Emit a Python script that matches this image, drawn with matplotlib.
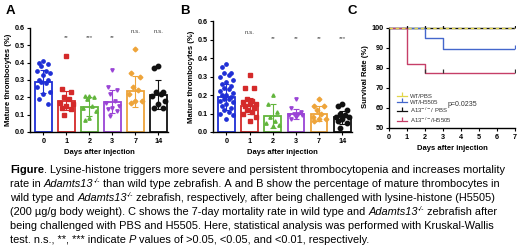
import matplotlib
matplotlib.use('Agg')
import matplotlib.pyplot as plt
from matplotlib.lines import Line2D
import numpy as np

plt.rcParams['font.family'] = ['Liberation Sans', 'DejaVu Sans']

# ---- data ----
days = ['0', '1', '2', '3', '7', '14']
colors = ['#1f2fd6', '#d42a2a', '#62b53c', '#9a44d6', '#eea43a', '#111111']
markers = ['o', 's', '^', 'v', 'D', 'o']

a_d0 = [0.41, 0.40, 0.39, 0.38, 0.35, 0.35, 0.34, 0.33, 0.30, 0.30, 0.29, 0.28, 0.26, 0.23, 0.22, 0.19, 0.16]
a_d1 = [0.44, 0.25, 0.23, 0.20, 0.19, 0.17, 0.16, 0.15, 0.14, 0.13, 0.10]
a_d2 = [0.21, 0.21, 0.20, 0.19, 0.15, 0.14, 0.12, 0.08, 0.07]
a_d3 = [0.36, 0.26, 0.24, 0.22, 0.18, 0.17, 0.15, 0.14, 0.13, 0.12, 0.09]
a_d7 = [0.48, 0.34, 0.32, 0.26, 0.24, 0.22, 0.18, 0.18, 0.17]
a_d14 = [0.38, 0.37, 0.23, 0.23, 0.22, 0.21, 0.18, 0.16, 0.14, 0.14]
a_mean = [0.29, 0.18, 0.145, 0.175, 0.235, 0.215]
a_sd = [0.065, 0.055, 0.055, 0.065, 0.09, 0.085]
a_sig = ['', '**', '***', '**', 'n.s.', 'n.s.']

b_d0 = [0.37, 0.35, 0.32, 0.32, 0.31, 0.30, 0.28, 0.27, 0.26, 0.25, 0.24, 0.23, 0.22, 0.21, 0.20,
        0.20, 0.19, 0.18, 0.18, 0.17, 0.16, 0.15, 0.14, 0.13, 0.12, 0.11, 0.10, 0.09, 0.07]
b_d1 = [0.31, 0.24, 0.24, 0.18, 0.17, 0.16, 0.15, 0.15, 0.14, 0.13, 0.12, 0.11, 0.10, 0.08, 0.06]
b_d2 = [0.20, 0.15, 0.11, 0.08, 0.06, 0.05, 0.04, 0.03]
b_d3 = [0.18, 0.13, 0.11, 0.10, 0.10, 0.09, 0.09, 0.08, 0.07]
b_d7 = [0.18, 0.14, 0.14, 0.12, 0.10, 0.08, 0.07, 0.07, 0.06]
b_d14 = [0.15, 0.14, 0.12, 0.10, 0.09, 0.08, 0.08, 0.07, 0.06, 0.05, 0.02]
b_mean = [0.187, 0.14, 0.085, 0.097, 0.10, 0.08]
b_sd = [0.07, 0.045, 0.065, 0.025, 0.04, 0.035]
b_sig = ['', 'n.s.', '**', '**', '**', '***']

surv_labels = ['WT/PBS', 'WT/H5505', 'A13$^{-/-}$/ PBS', 'A13$^{-/-}$/H5505']
surv_colors = ['#e2d64a', '#4467cc', '#111111', '#c63f68']
wt_pbs_t, wt_pbs_s = [0, 7], [100, 100]
wt_h_t, wt_h_s = [0, 2, 3, 7], [100, 95, 89.5, 89.5]
a13_pbs_t, a13_pbs_s = [0, 7], [100, 100]
a13_h_t, a13_h_s = [0, 1, 2, 7], [100, 81.8, 77.3, 77.3]
cens_pbs = [1, 2, 3, 7]
cens_wt_h = [7]
cens_a13_h = [2, 3, 7]

W, H = 520, 246
fig = plt.figure(figsize=(W / 100, H / 100), dpi=100)


def px(l, t, r, b):
    return [l / W, 1 - b / H, (r - l) / W, (b - t) / H]


def prism_axes(ax):
    for s in ['top', 'right']:
        ax.spines[s].set_visible(False)
    for s in ['left', 'bottom']:
        ax.spines[s].set_linewidth(1.0)
    ax.tick_params(direction='out', length=2.5, width=0.8, labelsize=5.2, pad=1.5)
    for lab in ax.get_xticklabels() + ax.get_yticklabels():
        lab.set_fontweight('bold')


def spread(n):
    # deterministic horizontal spread of the dots inside a bar
    pat = [0.0, -0.2, 0.2, -0.1, 0.1, -0.28, 0.28]
    return np.array([pat[i % len(pat)] for i in range(n)])


def bar_panel(ax, groups, means, sds, sig, sig_y):
    x = np.arange(len(groups))
    for i, pts in enumerate(groups):
        c = colors[i]
        ax.bar(x[i], means[i], width=0.72, facecolor='white', edgecolor=c, linewidth=1.3, zorder=2)
        ax.errorbar(x[i], means[i], yerr=sds[i], color=c, capsize=2.2, elinewidth=0.8,
                    capthick=0.8, zorder=3)
        ms = 3.2 if i == 5 else 2.4
        ax.plot(x[i] + spread(len(pts)), pts, linestyle='none', marker=markers[i], color=c,
                markersize=ms, zorder=4)
        if sig[i]:
            yy = sig_y + (0.035 if sig[i] == 'n.s.' else 0)
            ax.text(x[i], yy, sig[i], ha='center', va='center', fontsize=4.5, color='#444444')
    ax.set_xlim(-0.58, 5.42)
    ax.set_ylim(0, 0.6)
    ax.set_yticks(np.arange(0, 0.61, 0.1))
    ax.set_yticklabels(['%.1f' % v for v in np.arange(0, 0.61, 0.1)])
    ax.set_xticks(x)
    ax.set_xticklabels(days)
    ax.set_xlabel('Days after injection', fontsize=5.5, fontweight='bold', labelpad=3)
    ax.set_ylabel('Mature thrombocytes (%)', fontsize=5.5, fontweight='bold', labelpad=2)
    prism_axes(ax)


axA = fig.add_axes(px(30, 28, 168, 132))
bar_panel(axA, [a_d0, a_d1, a_d2, a_d3, a_d7, a_d14], a_mean, a_sd, a_sig, 0.545)

axB = fig.add_axes(px(213, 21, 352, 132))
bar_panel(axB, [b_d0, b_d1, b_d2, b_d3, b_d7, b_d14], b_mean, b_sd, b_sig, 0.505)

# ---- survival panel ----
axC = fig.add_axes(px(389, 26, 515, 128))
axC.step(a13_pbs_t, a13_pbs_s, where='post', color=surv_colors[2], lw=1.0, zorder=2)
axC.step(wt_pbs_t, wt_pbs_s, where='post', color=surv_colors[0], lw=1.0, ls=(0, (2.5, 2)), zorder=3)
axC.step(wt_h_t, wt_h_s, where='post', color=surv_colors[1], lw=1.0, zorder=2)
axC.step(a13_h_t, a13_h_s, where='post', color=surv_colors[3], lw=1.0, zorder=2)


def surv_at(ts, ss, t):
    v = ss[0]
    for tt, s in zip(ts, ss):
        if tt <= t:
            v = s
    return v


axC.plot(cens_pbs, [surv_at(a13_pbs_t, a13_pbs_s, t) for t in cens_pbs], ls='none', marker=2,
         color='#111111', markersize=3, mew=0.9, zorder=4)
axC.plot(cens_wt_h, [surv_at(wt_h_t, wt_h_s, t) for t in cens_wt_h], ls='none', marker=2,
         color=surv_colors[1], markersize=3, mew=0.9, zorder=4)
axC.plot(cens_a13_h, [surv_at(a13_h_t, a13_h_s, t) for t in cens_a13_h], ls='none', marker=2,
         color='#333333', markersize=3, mew=0.9, zorder=4)

handles = [Line2D([0], [0], color=c, lw=0.9, marker=2, markersize=3, mew=0.9) for c in surv_colors]
leg = axC.legend(handles, surv_labels, loc='upper left', bbox_to_anchor=(0.03, 0.38), frameon=False,
                 fontsize=4.3, handlelength=1.6, handletextpad=0.5, labelspacing=0.15, borderpad=0.2)
for t in leg.get_texts():
    t.set_color('#333333')
axC.text(3.25, 61.5, 'p=0.0235', fontsize=5, color='#333333', va='center')
axC.set_xlim(0, 7)
axC.set_ylim(50, 101)
axC.set_xticks(range(8))
axC.set_yticks(range(50, 101, 10))
axC.set_xlabel('Days after injection', fontsize=5.5, fontweight='bold', labelpad=3)
axC.set_ylabel('Survival Rate (%)', fontsize=5.5, fontweight='bold', labelpad=2)
prism_axes(axC)
axC.spines['left'].set_bounds(50, 100)

# panel letters
fig.text(6 / W, 1 - 11 / H, 'A', fontsize=9.5, fontweight='bold', va='center')
fig.text(180 / W, 1 - 11 / H, 'B', fontsize=9.5, fontweight='bold', va='center')
fig.text(347 / W, 1 - 11 / H, 'C', fontsize=9.5, fontweight='bold', va='center')

# ---- caption ----
cap_size = 7.95
sup = '-/-'
lines = [
    [('Figure', 'b'), ('. Lysine-histone triggers more severe and persistent thrombocytopenia and increases mortality', 'n')],
    [('rate in ', 'n'), ('Adamts13', 'i'), (sup, 's'), (' than wild type zebrafish. A and B show the percentage of mature thrombocytes in', 'n')],
    [('wild type and ', 'n'), ('Adamts13', 'i'), (sup, 's'), (' zebrafish, respectively, after being challenged with lysine-histone (H5505)', 'n')],
    [('(200 \u00b5g/g body weight). C shows the 7-day mortality rate in wild type and ', 'n'), ('Adamts13', 'i'), (sup, 's'), (' zebrafish after', 'n')],
    [('being challenged with PBS and H5505. Here, statistical analysis was performed with Kruskal-Wallis', 'n')],
    [('test. n.s., **, *** indicate ', 'n'), ('P', 'i'), (' values of >0.05, <0.05, and <0.01, respectively.', 'n')],
]
renderer = fig.canvas.get_renderer()
for k, runs in enumerate(lines):
    x = 10 / W
    y = 1 - (173 + 14 * k) / H
    for text, st in runs:
        kw = dict(fontsize=cap_size, va='baseline', ha='left', color='black')
        yy = y
        if st == 'b':
            kw['fontweight'] = 'bold'
        elif st == 'i':
            kw['fontstyle'] = 'italic'
        elif st == 's':
            kw['fontsize'] = cap_size * 0.6
            kw['fontstyle'] = 'italic'
            yy = y + 3.8 / H
        t = fig.text(x, yy, text.replace(' ', '\u00a0'), **kw)
        bb = t.get_window_extent(renderer=renderer)
        x += bb.width / (W)

fig.savefig('out.png', dpi=100)
